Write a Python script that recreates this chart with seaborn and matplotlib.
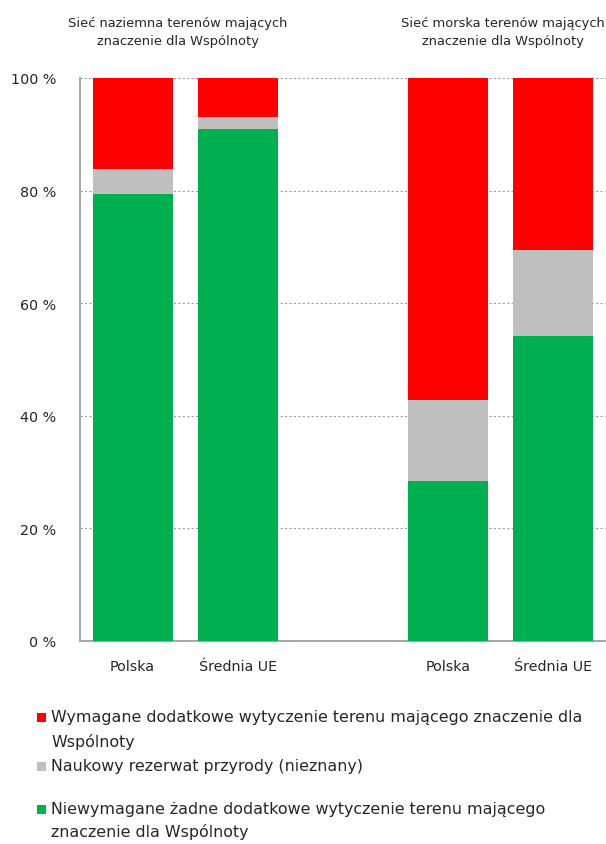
import matplotlib
matplotlib.use("Agg")
import matplotlib.pyplot as plt
import seaborn as sns
import pandas as pd
from matplotlib.patches import Rectangle

# Share of sites (%) per network and group
categories = ["Polska", "Średnia UE", "Polska", "Średnia UE"]
positions = [0, 1, 3, 4]
green_vals = [79.4, 90.9, 28.4, 54.2]   # no additional designation required
grey_vals = [4.4, 2.2, 14.4, 15.3]      # scientific reserve (unknown)
red_vals = [16.2, 6.9, 57.2, 30.5]      # additional designation required

titles = ["Sieć naziemna terenów mających\nznaczenie dla Wspólnoty",
          "Sieć morska terenów mających\nznaczenie dla Wspólnoty"]
legend_labels = [
    "Wymagane dodatkowe wytyczenie terenu mającego znaczenie dla\nWspólnoty",
    "Naukowy rezerwat przyrody (nieznany)",
    "Niewymagane żadne dodatkowe wytyczenie terenu mającego\nznaczenie dla Wspólnoty",
]
yticks = [0, 20, 40, 60, 80, 100]

RED, GREY, GREEN = "#FF0000", "#BFBFBF", "#00B050"
TXT = "#262626"

df = pd.DataFrame({"pos": positions, "cat": categories,
                   "green": green_vals, "grey": grey_vals, "red": red_vals})
df["lvl_grey"] = df["green"] + df["grey"]
df["lvl_red"] = df["lvl_grey"] + df["red"]

sns.set_theme(style="white")
plt.rcParams["font.family"] = ["DejaVu Sans"]

W, H = 606, 845
fig = plt.figure(figsize=(W / 100, H / 100), dpi=100)
ax = fig.add_axes([80 / W, 1 - 642 / H, 526 / W, (642 - 79) / H])

# Stacked bars: draw cumulative levels from the top segment down
for col, color in [("lvl_red", RED), ("lvl_grey", GREY), ("green", GREEN)]:
    sns.barplot(data=df, x="pos", y=col, native_scale=True, color=color,
                saturation=1, width=0.76, linewidth=0, ax=ax, zorder=3)

ax.set_xlim(-0.5, 4.5)
ax.set_ylim(0, 100)
ax.set_xlabel("")
ax.set_ylabel("")
ax.set_xticks(positions)
ax.set_xticklabels(categories, fontsize=10.3, color=TXT)
ax.set_yticks(yticks)
ax.set_yticklabels([f"{v} %" for v in yticks], fontsize=10.3, color=TXT)
ax.tick_params(axis="x", length=0, pad=13)
ax.tick_params(axis="y", length=8, width=1.2, color="#A6A6A6", direction="out", pad=9)

ax.yaxis.grid(True, color="#A0A0A0", linestyle=(0, (2, 2)), linewidth=0.8, zorder=0)
ax.xaxis.grid(False)
ax.set_axisbelow(True)
for s in ["top", "right"]:
    ax.spines[s].set_visible(False)
for s in ["left", "bottom"]:
    ax.spines[s].set_color("#A6A6A6")
    ax.spines[s].set_linewidth(1.4)

# Group headers above the bars
fig.text(178 / W, 1 - 32 / H, titles[0], ha="center", va="center",
         fontsize=9.4, color=TXT, linespacing=1.5)
fig.text(503 / W, 1 - 32 / H, titles[1], ha="center", va="center",
         fontsize=9.4, color=TXT, linespacing=1.5)

# Legend below the chart: colour square followed by the (wrapped) label
legend_rows = [(RED, legend_labels[0], [718, 742]),
               (GREY, legend_labels[1], [767]),
               (GREEN, legend_labels[2], [810, 832])]
for color, label, ys in legend_rows:
    fig.patches.append(Rectangle((37 / W, 1 - (ys[0] + 4.5) / H), 9 / W, 9 / H,
                                 transform=fig.transFigure, facecolor=color,
                                 edgecolor="none"))
    for line, y in zip(label.split("\n"), ys):
        fig.text(51 / W, 1 - y / H, line, ha="left", va="center",
                 fontsize=11.4, color=TXT)

fig.savefig("out.png", dpi=100)
